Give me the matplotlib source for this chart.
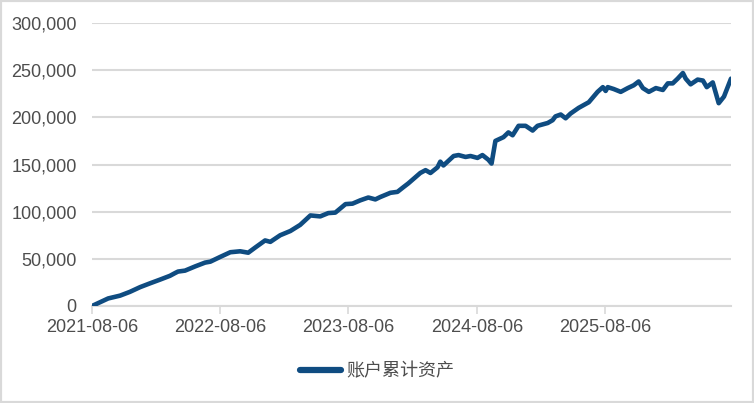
import matplotlib
matplotlib.use("Agg")
import matplotlib.pyplot as plt
from matplotlib.patches import Rectangle
import pandas as pd

dates = ["2021-08-06", "2021-08-29", "2021-09-21", "2021-10-25", "2021-11-22", "2021-12-21",
         "2022-01-18", "2022-02-16", "2022-03-16", "2022-03-31", "2022-04-08", "2022-04-28",
         "2022-05-27", "2022-06-24", "2022-07-09", "2022-08-06", "2022-09-04", "2022-10-02",
         "2022-10-25", "2022-11-14", "2022-12-12", "2022-12-27", "2023-01-24", "2023-02-22",
         "2023-03-22", "2023-04-20", "2023-05-18", "2023-06-10", "2023-06-30", "2023-07-29",
         "2023-08-18", "2023-09-09", "2023-10-02", "2023-10-22", "2023-11-05", "2023-12-04",
         "2023-12-24", "2024-01-10", "2024-01-24", "2024-02-27", "2024-03-13", "2024-03-27",
         "2024-04-16", "2024-04-24", "2024-05-03", "2024-06-01", "2024-06-15", "2024-07-05",
         "2024-07-19", "2024-08-08", "2024-08-22", "2024-09-08", "2024-09-17", "2024-09-28",
         "2024-10-21", "2024-11-04", "2024-11-16", "2024-12-03", "2024-12-23", "2025-01-12",
         "2025-01-26", "2025-02-24", "2025-03-10", "2025-03-18", "2025-04-02", "2025-04-16",
         "2025-04-30", "2025-05-23", "2025-06-21", "2025-07-16", "2025-07-31", "2025-08-08",
         "2025-08-14", "2025-08-31", "2025-09-20", "2025-10-10", "2025-10-27", "2025-11-10",
         "2025-11-22", "2025-12-09", "2025-12-29", "2026-01-18", "2026-02-01", "2026-02-15",
         "2026-03-01", "2026-03-16", "2026-03-24", "2026-04-07", "2026-04-27", "2026-05-12",
         "2026-05-23", "2026-06-09", "2026-06-26", "2026-07-11", "2026-07-31"]

assets = [0, 4000, 8000, 11000, 15000, 20000,
          24000, 28000, 32000, 35000, 36500, 37500,
          42000, 46000, 47000, 52000, 57000, 58000,
          56500, 62000, 69500, 68000, 75000, 79500,
          86000, 96000, 95000, 98500, 99000, 108000,
          108500, 112000, 115000, 113000, 115500, 120000,
          121000, 126000, 130000, 141000, 144000, 141000,
          147000, 153000, 149000, 159000, 160000, 158000,
          159000, 157000, 160000, 155000, 151000, 175000,
          179000, 184000, 181000, 191000, 191000, 186000,
          191000, 194000, 197000, 201000, 203000, 199000,
          204000, 210000, 216000, 227000, 232000, 228000,
          232000, 230000, 227000, 231000, 234000, 238000,
          231000, 227000, 231000, 229000, 236000, 236000,
          241000, 247000, 241000, 235000, 240000, 239000,
          232000, 237000, 215000, 222000, 241000]

tick_labels = ["2021-08-06", "2022-08-06", "2023-08-06", "2024-08-06", "2025-08-06"]
y_ticks = [0, 50000, 100000, 150000, 200000, 250000, 300000]
series_name = "账户累计资产"

plt.rcParams['font.family'] = ['Liberation Sans', 'Noto Sans CJK SC', 'DejaVu Sans']

x = pd.to_datetime(dates)
fig = plt.figure(figsize=(7.54, 4.03), dpi=100)
ax = fig.add_axes([92/754, 1-306/403, 639/754, 283/403])

line_color = "#0F4C81"
ax.plot(x, assets, color=line_color, lw=3.3, solid_joinstyle="round",
        solid_capstyle="round", label=series_name, zorder=3)

ax.set_ylim(0, 300000)
ax.set_xlim(x[0], x[-1])
ax.set_yticks(y_ticks)
ax.set_yticklabels([f"{v:,}" for v in y_ticks])
tick_pos = pd.to_datetime(tick_labels)
ax.set_xticks(tick_pos)
ax.set_xticklabels(tick_labels)

grid_c = "#D9D9D9"
text_c = "#4D4D4D"
ax.grid(axis="y", color=grid_c, lw=1.5)
ax.set_axisbelow(True)
for s in ["top", "right", "left"]:
    ax.spines[s].set_visible(False)
ax.spines["bottom"].set_color(grid_c)
ax.spines["bottom"].set_linewidth(1.5)
ax.tick_params(axis="x", length=6, width=1.2, color=grid_c, labelcolor=text_c,
               labelsize=13, pad=3)
ax.tick_params(axis="y", length=0, labelsize=13, labelcolor=text_c, pad=11)

leg = fig.legend(loc="center", bbox_to_anchor=(0.5, 1-372/403), frameon=False,
                 fontsize=13, handlelength=2.3, handletextpad=0.3, labelcolor=text_c)
for h in leg.get_lines():
    h.set_linewidth(4.5)

fig.patches.append(Rectangle((0, 0), 1, 1, transform=fig.transFigure, fill=False,
                             edgecolor="#D9D9D9", lw=3))

fig.savefig("out.png", dpi=100)
